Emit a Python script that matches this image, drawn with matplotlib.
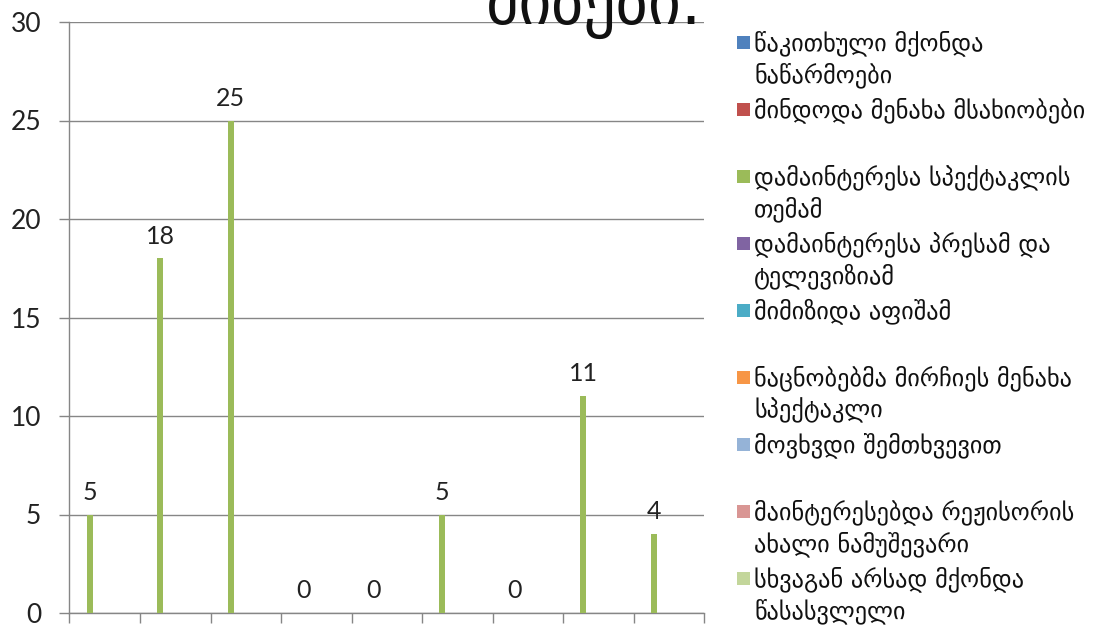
import matplotlib
matplotlib.use('Agg')
import matplotlib.pyplot as plt
import matplotlib.patches as patches

# data
categories = [
    "წაკითხული მქონდა\nნაწარმოები",
    "მინდოდა მენახა მსახიობები",
    "დამაინტერესა სპექტაკლის\nთემამ",
    "დამაინტერესა პრესამ და\nტელევიზიამ",
    "მიმიზიდა აფიშამ",
    "ნაცნობებმა მირჩიეს მენახა\nსპექტაკლი",
    "მოვხვდი შემთხვევით",
    "მაინტერესებდა რეჟისორის\nახალი ნამუშევარი",
    "სხვაგან არსად მქონდა\nწასასვლელი",
]
values = [5, 18, 25, 0, 0, 5, 0, 11, 4]
legend_colors = ['#4F81BD', '#C0504D', '#9BBB59', '#8064A2', '#4BACC6',
                 '#F79646', '#95B3D7', '#D99694', '#C3D69B']
bar_color = '#9BBB59'
title_text = "მიზეზი."
y_ticks = [0, 5, 10, 15, 20, 25, 30]

W, H = 1097, 625
fig = plt.figure(figsize=(W / 100, H / 100), dpi=100)
fig.patch.set_facecolor('white')

ax = fig.add_axes([69.5 / W, 12 / H, 634.5 / W, 591 / H])
grid_col = '#868686'

xs = [i + 0.285 for i in range(len(values))]
ax.bar(xs, values, width=0.085, color=bar_color, zorder=3)
for x, v in zip(xs, values):
    ax.text(x + 0.03 * (v == 0), v + 0.55, str(v), ha='center', va='bottom',
            fontsize=18, family='Lato', color='#222222', zorder=4)

ax.set_xlim(0, len(values))
ax.set_ylim(0, 30)
ax.set_yticks(y_ticks)
ax.set_yticklabels([str(t) for t in y_ticks], fontsize=19, family='Lato', color='#222222')
ax.set_xticks(range(len(values) + 1))
ax.set_xticklabels([])
ax.tick_params(axis='both', length=7.5, width=1, color=grid_col)
ax.tick_params(axis='y', pad=13)
ax.grid(axis='y', color=grid_col, linewidth=1, zorder=0)
for s in ['top', 'right']:
    ax.spines[s].set_visible(False)
for s in ['left', 'bottom']:
    ax.spines[s].set_color(grid_col)
    ax.spines[s].set_linewidth(1)

# title, cropped at the top of the picture like in the original
fig.text(702 / W, 1 - 24 / H, title_text, ha='right', va='baseline',
         fontsize=46, family='DejaVu Sans', color='#111111')

# legend, drawn by hand to keep the even spacing of the original
y0 = 43
step = 67
line_h = 32
for i, (lab, col) in enumerate(zip(categories, legend_colors)):
    ytop = y0 + i * step
    fig.patches.append(patches.Rectangle((737 / W, 1 - (ytop + 6) / H), 13 / W, 13 / H,
                                         facecolor=col, edgecolor='none',
                                         transform=fig.transFigure, figure=fig))
    for j, line in enumerate(lab.split("\n")):
        fig.text(754 / W, 1 - (ytop + j * line_h) / H, line, ha='left', va='center',
                 fontsize=17.5, family='DejaVu Sans', color='#111111')

fig.savefig('out.png', dpi=100)
